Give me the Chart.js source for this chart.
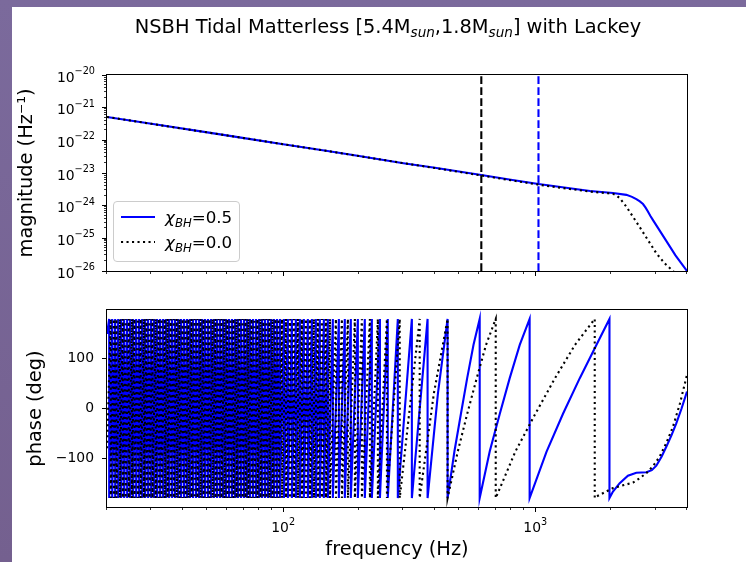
<!DOCTYPE html>
<html>
<head>
<meta charset="utf-8">
<title>NSBH Tidal Matterless</title>
<script src="https://cdn.jsdelivr.net/npm/chart.js@4.4.1/dist/chart.umd.min.js"></script>
<style>
  html, body { margin: 0; padding: 0; }
  body {
    width: 746px; height: 562px; overflow: hidden; position: relative;
    background: linear-gradient(180deg, #7b6a9c 0%, #74608f 100%);
    font-family: "DejaVu Sans", sans-serif; color: #000;
  }
  #sheet { position: absolute; left: 12px; top: 7px; right: 0; bottom: 0; background: #fff; }
  canvas { position: absolute; left: 0; }
  #magCanvas { top: 0; }
  #phaseCanvas { top: 290px; }
  #title {
    position: absolute; left: 88px; width: 600px; top: 15px;
    text-align: center; font-size: 19.4px; line-height: 23px; white-space: nowrap;
  }
  .sub { font-size: 70%; font-style: italic; position: relative; top: 0.3em; }
  #legend {
    position: absolute; left: 113px; top: 201px; width: 125px; height: 59px;
    border: 1px solid #cccccc; border-radius: 4px; background: rgba(255,255,255,0.8);
  }
  #legend svg { position: absolute; left: 0; top: 0; }
  .lg-text { position: absolute; left: 51px; font-size: 16.7px; line-height: 20px; white-space: nowrap; }
  .lg-text i { font-style: italic; }
  .lg-text .s { font-size: 70%; font-style: italic; position: relative; top: 0.3em; }
</style>
</head>
<body>
<div id="sheet"></div>
<canvas id="magCanvas" width="746" height="290"></canvas>
<canvas id="phaseCanvas" width="746" height="272"></canvas>
<div id="title">NSBH Tidal Matterless [5.4M<span class="sub">sun</span>,1.8M<span class="sub">sun</span>] with Lackey</div>
<div id="legend">
  <svg width="125" height="59">
    <line x1="7" y1="15" x2="41" y2="15" stroke="#0000ff" stroke-width="2.1"></line>
    <line x1="7" y1="40" x2="41" y2="40" stroke="#000000" stroke-width="2.1" stroke-dasharray="2.1 3.4"></line>
  </svg>
  <div class="lg-text" style="top:5px"><i>χ</i><span class="s">BH</span>=0.5</div>
  <div class="lg-text" style="top:30px"><i>χ</i><span class="s">BH</span>=0.0</div>
</div>
<script>
// axis ranges
const freqMin = 20, freqMax = 4000;
const magMin = 1e-26, magMax = 1e-20;
const phaseMin = -198, phaseMax = 198;

// magnitude curves (Hz, 1/Hz)
const magFreqBlue = [20, 30, 50, 70, 100, 150, 200, 300, 400, 611, 800, 1030, 1370, 1650, 2034, 2299, 2420, 2518, 2600, 2676, 2740, 2799, 2860, 2932, 3300, 3600, 4000];
const magBlue = [5.2e-22, 3.2e-22, 1.75e-22, 1.17e-22, 7.6e-23, 4.7e-23, 3.3e-23, 2.0e-23, 1.44e-23, 8.7e-24, 6.2e-24, 4.6e-24, 3.4e-24, 2.8e-24, 2.45e-24, 2.14e-24, 1.86e-24, 1.58e-24, 1.35e-24, 1.12e-24, 8.7e-25, 6.6e-25, 4.9e-25, 3.6e-25, 8.7e-26, 3.0e-26, 1.0e-26];
const magFreqBlack = [20, 30, 50, 70, 100, 150, 200, 300, 400, 611, 800, 1030, 1370, 1650, 1950, 2034, 2100, 2163, 2299, 2441, 2588, 2799, 3022, 3266, 3517, 3700];
const magBlack = [5.2e-22, 3.2e-22, 1.75e-22, 1.17e-22, 7.6e-23, 4.7e-23, 3.3e-23, 2.0e-23, 1.42e-23, 8.4e-24, 6.0e-24, 4.4e-24, 3.25e-24, 2.7e-24, 2.4e-24, 2.3e-24, 2.05e-24, 1.7e-24, 9.3e-25, 4.6e-25, 2.3e-25, 8.9e-26, 3.5e-26, 1.7e-26, 1.0e-26, 7e-27];

// dashed markers (Hz)
const blackLineFreq = 611;
const blueLineFreq = 1030;

// phase: frequencies where the wrapped phase jumps from +180 to -180
const phaseStartBlue = 150;
const phaseWrapsBlue = [20.4, 20.97, 21.55, 22.15, 22.76, 23.39, 24.04, 24.71, 25.39, 26.1, 26.82, 27.57, 28.33, 29.12, 29.93, 30.76,
  31.61, 32.49, 33.39, 34.32, 35.27, 36.25, 37.25, 38.29, 39.35, 40.44, 41.56, 42.72, 43.9, 45.12, 46.37, 47.66, 48.98, 50.34,
  51.74, 53.17, 54.65, 56.16, 57.72, 59.32, 60.97, 62.66, 64.4, 66.18, 68.02, 69.91, 71.85, 73.84, 75.89, 78.0, 80.16, 82.38,
  84.67, 87.02, 89.43, 91.91, 94.46, 97.08, 100.7, 104.4, 108.3, 112.3, 116.5, 120.8, 125.3, 130.0, 134.8, 139.8, 145.0, 150.4,
  157.4, 166.3, 175.6, 185.5, 197.8, 210.8, 224.8, 242, 260, 285, 324, 374, 449, 602, 950, 1970];
// points between the resets where the ramps bend, and the tail after the last reset
const phaseBendsBlue = [[411, 30], [478, -86], [507, -11], [537, 61], [569, 128],
  [660, -86], [723, -11], [792, 61], [868, 128],
  [1108, -87], [1290, -10], [1502, 61], [1750, 128],
  [2034, -167], [2163, -150], [2332, -135], [2518, -129], [2759, -128], [2900, -124], [3022, -115],
  [3170, -97], [3311, -77], [3470, -54], [3627, -30], [3800, -1], [4000, 34]];

const phaseStartBlack = -80;
const phaseWrapsBlack = [20.7, 21.3, 21.8, 22.5, 23.1, 23.7, 24.4, 25.1, 25.7, 26.5, 27.2, 28.0, 28.7, 29.5, 30.3, 31.2, 32.1,
  32.9, 33.9, 34.8, 35.8, 36.8, 37.8, 38.8, 39.9, 41.0, 42.1, 43.3, 44.5, 45.7, 47.0, 48.3, 49.7, 51.0, 52.5, 53.9, 55.4, 56.9,
  58.5, 60.1, 61.8, 63.5, 65.3, 67.1, 69.0, 70.9, 72.8, 74.9, 76.9, 79.1, 81.3, 83.5, 85.8, 88.2, 90.7, 93.2, 95.8, 98.9,
  102.6, 106.4, 110.3, 114.4, 118.7, 123.1, 127.7, 132.4, 137.4, 142.5, 147.8, 153.3, 161.9, 171.0, 180.6, 192.5, 205.2,
  220.8, 237.5, 258, 290, 348, 449, 697, 1722];
const phaseBendsBlack = [[396, 30], [493, -86], [537, -11], [586, 61], [638, 128],
  [835, -86], [1000, -11], [1198, 61], [1438, 128],
  [1748, -177], [2034, -160], [2250, -154], [2441, -149], [2600, -140], [2759, -130], [2940, -115], [3114, -97],
  [3320, -68], [3517, -37], [3750, 10], [4000, 68]];

// ticks
const freqTicks = [100, 1000];
const freqTickExps = ['2', '3'];
const freqMinorTicks = [20, 30, 40, 50, 60, 70, 80, 90, 200, 300, 400, 500, 600, 700, 800, 900, 2000, 3000, 4000];
const magTicks = [1e-26, 1e-25, 1e-24, 1e-23, 1e-22, 1e-21, 1e-20];
const magTickExps = ['−26', '−25', '−24', '−23', '−22', '−21', '−20'];
const magMinorSteps = [2, 3, 4, 5, 6, 7, 8, 9];
const phaseTicks = [-100, 0, 100];
const phaseTickLabels = ['−100', '0', '100'];

Chart.defaults.font.family = '"DejaVu Sans", sans-serif';
Chart.defaults.color = '#000';

function toPoints(xs, ys) {
    return xs.map((x, i) => ({x: x, y: ys[i]}));
}

function buildPhase(start, wraps, bends) {
    let pts = [{x: freqMin, y: start}];
    wraps.forEach(f => {
        pts.push({x: f, y: 180});
        pts.push({x: f, y: -180});
    });
    bends.forEach(p => pts.push({x: p[0], y: p[1]}));
    pts.sort((a, b) => a.x - b.x);
    return pts;
}

let magMinorTicks = [];
magTicks.slice(0, -1).forEach(d => magMinorSteps.forEach(m => magMinorTicks.push(d * m)));

// box round the axes, minor ticks, and "10^n" tick labels with raised exponents
const axesFrame = {
    id: 'axesFrame',
    afterDraw(chart, args, opts) {
        const ctx = chart.ctx;
        const a = chart.chartArea;
        const xs = chart.scales.x, ys = chart.scales.y;
        ctx.save();
        ctx.strokeStyle = '#000';
        ctx.lineWidth = 0.8;
        ctx.beginPath();
        (opts.xMinor || []).forEach(v => {
            const px = Math.round(xs.getPixelForValue(v)) - 0.5;
            ctx.moveTo(px, a.bottom);
            ctx.lineTo(px, a.bottom + 3);
        });
        (opts.yMinor || []).forEach(v => {
            const py = Math.round(ys.getPixelForValue(v)) - 0.5;
            ctx.moveTo(a.left, py);
            ctx.lineTo(a.left - 3, py);
        });
        ctx.stroke();
        ctx.lineWidth = 1;
        ctx.strokeRect(a.left - 0.5, a.top - 0.5, a.right - a.left + 1, a.bottom - a.top + 1);

        const baseFont = '13.9px "DejaVu Sans"';
        const supFont = '9.7px "DejaVu Sans"';
        ctx.fillStyle = '#000';
        ctx.textBaseline = 'alphabetic';
        ctx.textAlign = 'left';
        if (opts.xPow) {
            opts.xPow.values.forEach((v, i) => {
                const exp = opts.xPow.exps[i];
                ctx.font = baseFont;
                const w1 = ctx.measureText('10').width;
                ctx.font = supFont;
                const w2 = ctx.measureText(exp).width;
                const x0 = xs.getPixelForValue(v) - (w1 + w2) / 2;
                const y0 = a.bottom + 24.7;
                ctx.font = baseFont;
                ctx.fillText('10', x0, y0);
                ctx.font = supFont;
                ctx.fillText(exp, x0 + w1, y0 - 7);
            });
        }
        if (opts.yPow) {
            opts.yPow.values.forEach((v, i) => {
                const exp = opts.yPow.exps[i];
                ctx.font = baseFont;
                const w1 = ctx.measureText('10').width;
                ctx.font = supFont;
                const w2 = ctx.measureText(exp).width;
                const x0 = a.left - 12 - w1 - w2;
                const y0 = ys.getPixelForValue(v) + 6.5;
                ctx.font = baseFont;
                ctx.fillText('10', x0, y0);
                ctx.font = supFont;
                ctx.fillText(exp, x0 + w1, y0 - 7.5);
            });
        }
        ctx.restore();
    }
};

const tickGrid = {display: true, drawOnChartArea: false, drawTicks: true, tickLength: 5, tickColor: '#000', tickWidth: 1};

// Magnitude
new Chart(document.getElementById('magCanvas'), {
    type: 'line',
    data: {
        datasets: [
            {data: [{x: blackLineFreq, y: magMin}, {x: blackLineFreq, y: magMax}], borderColor: '#000000', borderDash: [7.7, 3.3], order: 0},
            {data: [{x: blueLineFreq, y: magMin}, {x: blueLineFreq, y: magMax}], borderColor: '#0000ff', borderDash: [7.7, 3.3], order: 0},
            {label: 'χBH=0.0', data: toPoints(magFreqBlack, magBlack), borderColor: '#000000', borderDash: [2.1, 3.4], order: 1},
            {label: 'χBH=0.5', data: toPoints(magFreqBlue, magBlue), borderColor: '#0000ff', order: 2}
        ]
    },
    options: {
        responsive: false, animation: false, events: [], devicePixelRatio: 1,
        layout: {padding: {left: 0, top: 75, right: 59, bottom: 0}},
        elements: {point: {radius: 0}, line: {tension: 0, borderWidth: 2.1, fill: false}},
        plugins: {
            legend: {display: false}, tooltip: {enabled: false},
            axesFrame: {xMinor: freqMinorTicks, yMinor: magMinorTicks, yPow: {values: magTicks, exps: magTickExps}}
        },
        scales: {
            x: {
                type: 'logarithmic', min: freqMin, max: freqMax,
                afterBuildTicks: s => { s.ticks = freqTicks.map(v => ({value: v})); },
                afterFit: s => { s.height = 19; },
                ticks: {autoSkip: false, callback: () => ''},
                grid: tickGrid, border: {display: false}
            },
            y: {
                type: 'logarithmic', min: magMin, max: magMax,
                afterBuildTicks: s => { s.ticks = magTicks.map(v => ({value: v})); },
                afterFit: s => { s.width = 107; },
                ticks: {autoSkip: false, callback: () => ''},
                grid: tickGrid, border: {display: false},
                title: {display: true, text: 'magnitude (Hz⁻¹)', font: {size: 19.4}, padding: {top: 15, bottom: 0}}
            }
        }
    },
    plugins: [axesFrame]
});

// Phase
new Chart(document.getElementById('phaseCanvas'), {
    type: 'line',
    data: {
        datasets: [
            {label: 'χBH=0.0', data: buildPhase(phaseStartBlack, phaseWrapsBlack, phaseBendsBlack), borderColor: '#000000', borderDash: [2.1, 3.4], order: 1},
            {label: 'χBH=0.5', data: buildPhase(phaseStartBlue, phaseWrapsBlue, phaseBendsBlue), borderColor: '#0000ff', order: 2}
        ]
    },
    options: {
        responsive: false, animation: false, events: [], devicePixelRatio: 1,
        layout: {padding: {left: 0, top: 20, right: 59, bottom: 0}},
        elements: {point: {radius: 0}, line: {tension: 0, borderWidth: 2.1, fill: false}},
        plugins: {
            legend: {display: false}, tooltip: {enabled: false},
            axesFrame: {xMinor: freqMinorTicks, yMinor: [], xPow: {values: freqTicks, exps: freqTickExps}}
        },
        scales: {
            x: {
                type: 'logarithmic', min: freqMin, max: freqMax,
                afterBuildTicks: s => { s.ticks = freqTicks.map(v => ({value: v})); },
                afterFit: s => { s.height = 55; },
                ticks: {autoSkip: false, callback: () => ''},
                grid: tickGrid, border: {display: false},
                title: {display: true, text: 'frequency (Hz)', font: {size: 19.4}, padding: {top: 0, bottom: 0}}
            },
            y: {
                type: 'linear', min: phaseMin, max: phaseMax,
                afterBuildTicks: s => { s.ticks = phaseTicks.map(v => ({value: v})); },
                afterFit: s => { s.width = 107; },
                ticks: {autoSkip: false, padding: 8, font: {size: 13.9}, callback: (v, i) => phaseTickLabels[i]},
                grid: tickGrid, border: {display: false},
                title: {display: true, text: 'phase (deg)', font: {size: 19.4}, padding: {top: 24, bottom: 0}}
            }
        }
    },
    plugins: [axesFrame]
});
</script>
</body>
</html>
